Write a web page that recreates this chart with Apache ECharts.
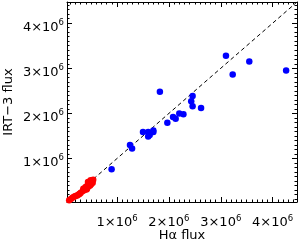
<!DOCTYPE html>
<html><head><meta charset="utf-8">
<script src="https://cdn.jsdelivr.net/npm/echarts@6/dist/echarts.min.js"></script>
<style>html,body{margin:0;padding:0;background:#fff}#c{width:300px;height:240px}</style>
</head><body><div id="c"></div>
<script>
var axisMin = 35000;
var axisMax = 4470000;
var majorTicks = [1000000, 2000000, 3000000, 4000000];
var minorStep = 100000;
var xTitle = 'H\u03b1 flux';
var yTitle = 'IRT\u22123 flux';
// values in units of 1e6
var blueX = [1.826,3.10,3.55,4.26,3.23,2.457,2.43,2.457,2.62,2.20,2.28,2.08,2.13,1.97,1.70,1.70,1.63,1.60,1.60,1.50,1.25,1.29,0.895];
var blueY = [2.48,3.28,3.15,2.95,2.86,2.385,2.27,2.16,2.12,2.00,1.98,1.92,1.88,1.79,1.59,1.62,1.52,1.49,1.59,1.59,1.30,1.22,0.76];
var redX = [0.077,0.11,0.14,0.17,0.20,0.23,0.26,0.28,0.30,0.34,0.36,0.39,0.41,0.44,0.46,0.49,0.515,0.54,0.37,0.40,0.42,0.45,0.48,0.50,0.53,0.41,0.35,0.49,0.44];
var redY = [0.073,0.10,0.13,0.15,0.17,0.18,0.20,0.22,0.24,0.28,0.31,0.36,0.38,0.41,0.44,0.47,0.50,0.53,0.30,0.34,0.33,0.38,0.40,0.43,0.46,0.31,0.33,0.52,0.48];

function pairs(xs, ys){ return xs.map(function(x,i){ return [x*1e6, ys[i]*1e6]; }); }
var minorTicks = [];
for (var v = minorStep; v < axisMax; v += minorStep) minorTicks.push(v);

var font = 'DejaVu Sans, sans-serif';
function fmt(v){ return '{b|' + Math.round(v/1e6) + '\u00d710}{s|6}'; }
var rich = { b: {fontSize: 13, fontFamily: font, color: '#000', lineHeight: 18},
             s: {fontSize: 8.5, fontFamily: font, color: '#000', verticalAlign: 'top', lineHeight: 9} };

function mkAxis(pos, ticks, len, showLine, label, name, nameGap, margin, pad){
  var a = {
    type: 'value', position: pos, min: axisMin, max: axisMax, gridIndex: 0,
    splitLine: {show: false},
    axisLine: {show: showLine, onZero: false, lineStyle: {color: '#000', width: 1}},
    axisTick: {show: true, inside: true, length: len, customValues: ticks, lineStyle: {color: '#000', width: 1}},
    axisLabel: label ? {show: true, customValues: majorTicks, formatter: fmt, rich: rich, margin: margin, padding: pad} : {show: false}
  };
  if (name) {
    a.name = name; a.nameLocation = 'middle'; a.nameGap = nameGap; a.nameMoveOverlap = false;
    a.nameTextStyle = {fontSize: 13, fontFamily: font, color: '#000'};
  }
  return a;
}

var chart = echarts.init(document.getElementById('c'), null, {renderer: 'canvas'});
chart.setOption({
  animation: false,
  backgroundColor: '#fff',
  grid: {left: 67, top: 2, right: 3, bottom: 38, containLabel: false, outerBoundsMode: 'none'},
  xAxis: [
    mkAxis('bottom', majorTicks, 5, true, true, xTitle, 27, 12, [0,0,0,0]),
    mkAxis('bottom', minorTicks, 2.5, false, false),
    mkAxis('top', majorTicks, 5, true, false),
    mkAxis('top', minorTicks, 2.5, false, false)
  ],
  yAxis: [
    mkAxis('left', majorTicks, 5, true, true, yTitle, 52, 3, [8,0,0,0]),
    mkAxis('left', minorTicks, 2.5, false, false),
    mkAxis('right', majorTicks, 5, true, false),
    mkAxis('right', minorTicks, 2.5, false, false)
  ],
  series: [
    {type: 'line', data: [[axisMin, axisMin],[axisMax, axisMax]], symbol: 'none', silent: true,
     lineStyle: {color: '#000', width: 1, type: [4,3]}, z: 1},
    {type: 'scatter', data: pairs(blueX, blueY), symbolSize: 6.5, itemStyle: {color: '#0000ff', opacity: 1}, z: 3},
    {type: 'scatter', data: pairs(redX, redY), symbolSize: 6.5, itemStyle: {color: '#ff0000', opacity: 1}, z: 3}
  ]
});
</script></body></html>
